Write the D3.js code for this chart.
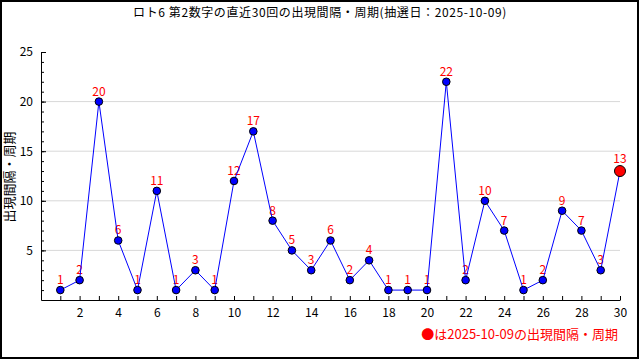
<!DOCTYPE html>
<html><head><meta charset="utf-8">
<script src="https://cdn.jsdelivr.net/npm/d3@7"></script>
<style>body{margin:0;background:#fff}svg{display:block}text{font-family:"Noto Sans CJK JP","DejaVu Sans",sans-serif}</style>
</head><body>
<svg id="c" width="640" height="360"></svg>
<script>
const title = "ロト6 第2数字の直近30回の出現間隔・周期(抽選日：2025-10-09)";
const yLabel = "出現間隔・周期";
const legendText = "●は2025-10-09の出現間隔・周期";
const draws = d3.range(1, 31);
const intervals = [1,2,20,6,1,11,1,3,1,12,17,8,5,3,6,2,4,1,1,1,22,2,10,7,1,2,9,7,3,13];
const xTickLabels = [2,4,6,8,10,12,14,16,18,20,22,24,26,28,30];
const yTickLabels = [5,10,15,20,25];

const svg = d3.select("#c");
svg.append("rect").attr("x",1).attr("y",1).attr("width",637).attr("height",357)
  .attr("fill","#fff").attr("stroke","#000").attr("stroke-width",2);

const x = d3.scaleLinear().domain([0,30]).range([41,620]);
const y = d3.scaleLinear().domain([0,25]).range([300,52]);

// grid
svg.append("g").selectAll("line").data(yTickLabels.filter(v=>v<25)).join("line")
  .attr("x1",x(0)).attr("x2",x(30)).attr("y1",d=>y(d)).attr("y2",d=>y(d))
  .attr("stroke","#d8d8d8").attr("stroke-width",1);

// minor y ticks
svg.append("g").attr("transform",`translate(${x(0)},0)`)
  .call(d3.axisLeft(y).tickValues(d3.range(1,25)).tickSize(-3).tickFormat(""))
  .call(g=>g.select(".domain").remove())
  .call(g=>g.selectAll("line").attr("stroke","#000"));
// major y axis
svg.append("g").attr("transform",`translate(${x(0)},0)`)
  .call(d3.axisLeft(y).tickValues(yTickLabels).tickSize(-5).tickSizeOuter(0).tickPadding(8))
  .call(g=>g.select(".domain").attr("stroke","#000"))
  .call(g=>g.selectAll("text").attr("font-size",12).attr("fill","#000"));

// x axis
svg.append("g").attr("transform",`translate(0,${y(0)})`)
  .call(d3.axisBottom(x).tickValues(draws).tickSize(-4).tickSizeOuter(0).tickPadding(8)
    .tickFormat(d=>xTickLabels.includes(d)?d:""))
  .call(g=>g.select(".domain").attr("stroke","#000"))
  .call(g=>g.selectAll("text").attr("font-size",12).attr("fill","#000"));

// title
svg.append("text").attr("x",320).attr("y",17).attr("text-anchor","middle")
  .attr("font-size",12).attr("letter-spacing","0.6px").attr("fill","#000").text(title);

// y label
svg.append("text").attr("transform","translate(14,177) rotate(-90)")
  .attr("text-anchor","middle").attr("font-size",13).attr("fill","#000").text(yLabel);

const pts = draws.map((d,i)=>({d, v:intervals[i], last:i===draws.length-1}));

// value labels
svg.append("g").selectAll("text").data(pts).join("text")
  .attr("x",p=>x(p.d)).attr("y",p=>y(p.v)-(p.last?8:6)).attr("text-anchor","middle")
  .attr("font-size",12).attr("fill","#ff0000").text(p=>p.v);

// line
svg.append("path").datum(pts)
  .attr("d",d3.line().x(p=>x(p.d)).y(p=>y(p.v)))
  .attr("fill","none").attr("stroke","#0000ff").attr("stroke-width",1);

// points
svg.append("g").selectAll("circle").data(pts).join("circle")
  .attr("cx",p=>x(p.d)).attr("cy",p=>y(p.v)).attr("r",p=>p.last?5.5:3.8)
  .attr("fill",p=>p.last?"#ff0000":"#0000ff").attr("stroke","#000").attr("stroke-width",1);

// legend
svg.append("text").attr("x",618).attr("y",339).attr("text-anchor","end")
  .attr("font-size",13).attr("fill","#ff0000").text(legendText);
</script>
</body></html>
